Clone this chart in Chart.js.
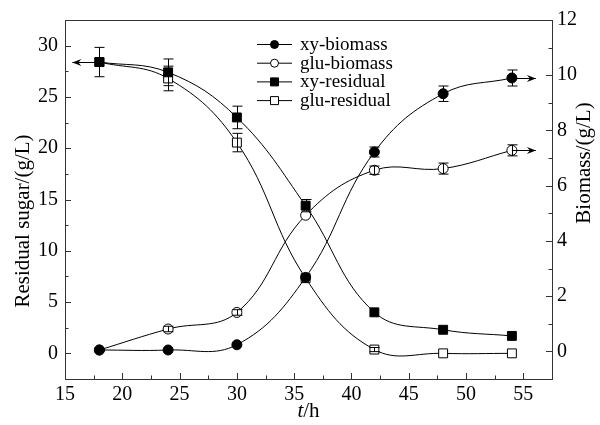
<!DOCTYPE html>
<html><head><meta charset="utf-8">
<script src="https://cdn.jsdelivr.net/npm/chart.js@4/dist/chart.umd.min.js"></script>
<style>html,body{margin:0;padding:0;background:#fff}#wrap{width:600px;height:425px;position:relative}</style>
</head><body><div id="wrap"><canvas id="c" width="600" height="425"></canvas></div>
<script>
// ---- data ----
const timeH = [18, 24, 30, 36, 42, 48, 54];
const xyBiomass      = [0.05, 0.05, 0.24, 2.68, 7.22, 9.33, 9.90];
const xyBiomassErr   = [0, 0, 0, 0, 0.18, 0.28, 0.29];
const gluBiomass     = [0.05, 0.81, 1.41, 4.93, 6.56, 6.62, 7.28];
const gluBiomassErr  = [0, 0.1, 0.1, 0, 0.15, 0.2, 0.2];
const xyResidual     = [28.4, 27.4, 23.0, 14.4, 4.0, 2.3, 1.7];
const xyResidualErr  = [1.43, 1.3, 1.1, 0.6, 0, 0, 0];
const gluResidual    = [28.4, 26.8, 20.55, 7.33, 0.37, 0.0, 0.0];
const gluResidualErr = [0, 1.2, 0.9, 0, 0.2, 0, 0];
const xTickLabels     = [15, 20, 25, 30, 35, 40, 45, 50, 55];
const leftTickLabels  = [0, 5, 10, 15, 20, 25, 30];
const rightTickLabels = [0, 2, 4, 6, 8, 10, 12];
const seriesNames = ['xy-biomass', 'glu-biomass', 'xy-residual', 'glu-residual'];

const FONT = '"Liberation Serif", "Times New Roman", serif';
const pts = (ys) => timeH.map((x, i) => ({x, y: ys[i]}));

function ds(label, ys, err, axis, style, filled) {
  return {
    label, data: pts(ys), err, yAxisID: axis,
    borderColor: '#000', borderWidth: 1, tension: 0.4,
    pointStyle: style, pointRadius: style === 'rect' ? 6.3 : 5,
    pointBorderWidth: 1, pointBorderColor: '#000',
    pointBackgroundColor: filled ? '#000' : '#fff', fill: false
  };
}

const inwardTicks = {
  id: 'frame',
  afterDraw(chart) {
    const {ctx, chartArea: a, scales} = chart;
    ctx.save();
    ctx.strokeStyle = '#333'; ctx.lineWidth = 1;
    ctx.strokeRect(a.left + 0.5, a.top + 0.5, a.right - a.left, a.bottom - a.top);
    const tick = (x1, y1, x2, y2) => { ctx.beginPath(); ctx.moveTo(x1, y1); ctx.lineTo(x2, y2); ctx.stroke(); };
    for (let v = 15; v <= 57.5; v += 2.5) {
      const px = Math.round(scales.x.getPixelForValue(v)) + 0.5;
      const L = (v % 5 === 0) ? 6 : 3.5;
      tick(px, a.bottom, px, a.bottom - L);
    }
    for (let v = -2.5; v <= 32.5; v += 2.5) {
      const py = Math.round(scales.y.getPixelForValue(v)) + 0.5;
      const L = (v % 5 === 0) ? 6 : 3.5;
      tick(a.left, py, a.left + L, py);
    }
    for (let v = -1; v <= 12; v += 1) {
      const py = Math.round(scales.y2.getPixelForValue(v)) + 0.5;
      const L = (v % 2 === 0) ? 6 : 3.5;
      tick(a.right, py, a.right - L, py);
    }
    // axis titles
    ctx.fillStyle = '#000';
    ctx.font = '21px ' + FONT;
    ctx.textBaseline = 'middle';
    ctx.save();
    ctx.translate(23, 221);
    ctx.rotate(-Math.PI / 2);
    ctx.textAlign = 'center';
    ctx.fillText('Residual sugar/(g/L)', 0, 0);
    ctx.restore();
    ctx.save();
    ctx.translate(584, 163);
    ctx.rotate(-Math.PI / 2);
    ctx.textAlign = 'center';
    ctx.fillText('Biomass/(g/L)', 0, 0);
    ctx.restore();
    // x title: italic t + /h
    const cx = (a.left + a.right) / 2;
    ctx.textAlign = 'left';
    ctx.font = 'italic 21px ' + FONT;
    const wt = ctx.measureText('t').width;
    ctx.font = '21px ' + FONT;
    const wh = ctx.measureText('/h').width;
    const x0 = cx - (wt + wh) / 2;
    ctx.font = 'italic 21px ' + FONT;
    ctx.fillText('t', x0, 411);
    ctx.font = '21px ' + FONT;
    ctx.fillText('/h', x0 + wt, 411);

    // legend
    const lx = 257, ly = 44, dy = 18.7;
    chart.data.datasets.forEach((d, i) => {
      const y = ly + i * dy;
      ctx.strokeStyle = '#000';
      tick(lx, y + 0.5, lx + 35, y + 0.5);
      ctx.fillStyle = d.pointBackgroundColor;
      ctx.beginPath();
      if (d.pointStyle === 'rect') ctx.rect(lx + 17.5 - 4, y - 3.5, 8, 8);
      else ctx.arc(lx + 17.5, y + 0.5, 4, 0, Math.PI * 2);
      ctx.fill(); ctx.stroke();
      ctx.fillStyle = '#000';
      ctx.font = '19px ' + FONT;
      ctx.textAlign = 'left';
      ctx.fillText(d.label, lx + 43, y + 1);
    });
    ctx.restore();
  },
  afterDatasetsDraw(chart) {
    const {ctx, scales} = chart;
    ctx.save();
    ctx.strokeStyle = '#000'; ctx.lineWidth = 1;
    const line = (x1, y1, x2, y2) => { ctx.beginPath(); ctx.moveTo(x1, y1); ctx.lineTo(x2, y2); ctx.stroke(); };
    chart.data.datasets.forEach((d) => {
      const ys = scales[d.yAxisID];
      d.data.forEach((p, i) => {
        const e = d.err[i];
        if (!e) return;
        const px = Math.round(scales.x.getPixelForValue(p.x)) + 0.5;
        const yt = ys.getPixelForValue(p.y + e), yb = ys.getPixelForValue(p.y - e);
        line(px, yt, px, yb);
        line(px - 5, yt, px + 5, yt);
        line(px - 5, yb, px + 5, yb);
      });
    });
    const arrow = (x1, y, x2) => {
      line(x1, y, x2, y);
      const dir = Math.sign(x2 - x1);
      ctx.fillStyle = '#000';
      ctx.beginPath();
      ctx.moveTo(x2, y); ctx.lineTo(x2 - dir * 9, y - 3.5); ctx.lineTo(x2 - dir * 6, y); ctx.lineTo(x2 - dir * 9, y + 3.5);
      ctx.closePath(); ctx.fill();
    };
    const d2 = chart.data.datasets[2].data[0];
    const sx = scales.x.getPixelForValue(d2.x), sy = Math.round(scales.y.getPixelForValue(d2.y)) + 0.5;
    arrow(sx, sy, sx - 27);
    [0, 1].forEach(k => {
      const arr = chart.data.datasets[k].data;
      const p = arr[arr.length - 1];
      const ex = scales.x.getPixelForValue(p.x), ey = Math.round(scales.y2.getPixelForValue(p.y)) + 0.5;
      arrow(ex, ey, ex + 24);
    });
    ctx.restore();
  }
};

const useTicks = (list) => (scale) => { scale.ticks = list.map(v => ({value: v})); };
const tickFont = {family: FONT, size: 20};

new Chart(document.getElementById('c'), {
  type: 'line',
  data: {
    datasets: [
      ds(seriesNames[0], xyBiomass, xyBiomassErr, 'y2', 'circle', true),
      ds(seriesNames[1], gluBiomass, gluBiomassErr, 'y2', 'circle', false),
      ds(seriesNames[2], xyResidual, xyResidualErr, 'y', 'rect', true),
      ds(seriesNames[3], gluResidual, gluResidualErr, 'y', 'rect', false)
    ]
  },
  options: {
    responsive: false, animation: false, devicePixelRatio: 1,
    layout: {padding: {top: 20, left: 0, right: 0, bottom: 0}},
    plugins: {legend: {display: false}, tooltip: {enabled: false}},
    scales: {
      x: {
        type: 'linear', min: 15, max: 57.5,
        afterBuildTicks: useTicks(xTickLabels),
        afterFit: s => { s.height = 46; },
        grid: {display: false, drawTicks: false}, border: {display: false},
        ticks: {padding: 4, color: '#000', font: tickFont, maxRotation: 0, autoSkip: false}
      },
      y: {
        position: 'left', min: -2.5, max: 32.5,
        afterBuildTicks: useTicks(leftTickLabels),
        afterFit: s => { s.width = 65; },
        grid: {display: false, drawTicks: false}, border: {display: false},
        ticks: {padding: 7, color: '#000', font: tickFont, autoSkip: false}
      },
      y2: {
        position: 'right', min: -1, max: 12,
        afterBuildTicks: useTicks(rightTickLabels),
        afterFit: s => { s.width = 48; },
        grid: {display: false, drawTicks: false}, border: {display: false},
        ticks: {padding: 5, color: '#000', font: tickFont, autoSkip: false}
      }
    }
  },
  plugins: [inwardTicks]
});
</script>
</body></html>
